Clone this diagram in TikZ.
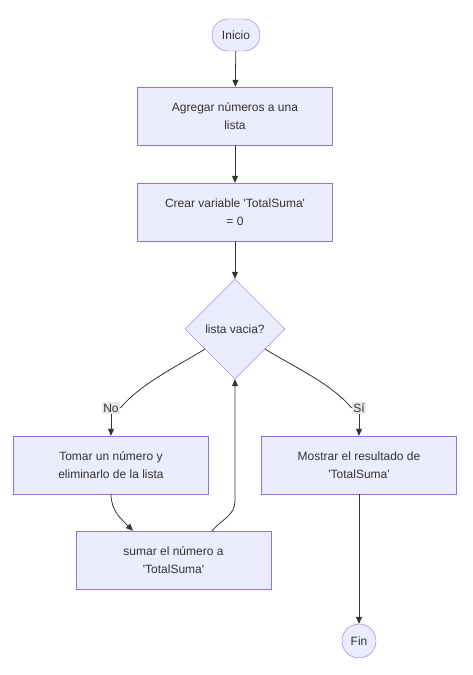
\documentclass[tikz,border=0pt]{standalone}
\usepackage{fontspec}
\setmainfont{Liberation Sans}
\usepackage{tikz}
\usetikzlibrary{arrows.meta,calc,positioning,shapes.geometric}
\definecolor{mmfill}{HTML}{ECECFF}
\definecolor{mmline}{HTML}{9370DB}
\definecolor{mmedge}{HTML}{333333}
\definecolor{mmlabel}{HTML}{E8E8E8}
\newcommand{\qq}{\textquotesingle}
\tikzset{%
	process/.style  = {draw=mmline, fill=mmfill, rectangle, minimum width=195pt, minimum height=58pt, align=center},
	startstop/.style= {draw=mmline, fill=mmfill, rectangle, rounded corners=16pt, minimum width=48pt, minimum height=32pt},
	stopcirc/.style = {draw=mmline, fill=mmfill, circle, minimum size=34pt, inner sep=0pt},
	decision/.style = {draw=mmline, fill=mmfill, diamond, aspect=1, minimum width=100pt, minimum height=100pt, inner sep=0pt},
	edgelabel/.style= {fill=mmlabel, inner sep=1.5pt},
	arrow/.style    = {draw=mmedge, line width=0.8pt, ->},
	line/.style     = {draw=mmedge, line width=0.8pt},
}

\begin{document}
\begin{tikzpicture}[x=1pt,y=1pt,>={Triangle[length=7pt,width=6pt]},text=mmedge,font=\fontsize{12}{18}\selectfont]
	\useasboundingbox (0,0) rectangle (473,675);
	\node [startstop] (start) at (236,640) {Inicio};
	\node [process] (add) [below of=start,node distance=81pt,xshift=-1pt] {Agregar números a una\\lista};
	\node [process] (var) [below of=add,node distance=96pt] {Crear variable \qq TotalSuma\qq\\= 0};
	\node [decision] (empty) [below of=var,node distance=117pt] {lista vacia?};
	\node [process] (take) [below of=empty,node distance=136pt,xshift=-124pt] {Tomar un número y\\eliminarlo de la lista};
	\node [process] (sum) [below of=take,node distance=95pt,xshift=62.5pt] {sumar el número a\\\qq TotalSuma\qq};
	\node [process] (show) [below of=empty,node distance=136pt,xshift=124pt] {Mostrar el resultado de\\\qq TotalSuma\qq};
	\node [stopcirc] (fin) [below of=show,node distance=176pt] {Fin};
	\node [edgelabel] (no) at (111,267) {No};
	\node [edgelabel] (yes) at (359,267) {Sí};
	\coordinate (noout) at ($(empty.west)!0.4!(empty.south)$);
	\coordinate (yesout) at ($(empty.east)!0.4!(empty.south)$);
	\coordinate (sumin) at ([xshift=-40.5pt]sum.north);
	\coordinate (sumout) at ([xshift=38.5pt]sum.north);
	
	\draw[arrow] (start) -- (add);
	\draw[arrow] (add) -- (var);
	\draw[arrow] (var) -- (empty);
	\draw[line] (noout) to[out=-148,in=50,looseness=0.8] (no.east);
	\draw[arrow] (no) -- (take);
	\draw[line] (yesout) to[out=-32,in=130,looseness=0.8] (yes.west);
	\draw[arrow] (yes) -- (show);
	\draw[arrow] (take.south) to[out=-90,in=135] (sumin);
	\draw[arrow] (sumout) to[out=50,in=-90] ($(empty.south|-sumout)+(0,30)$) -- (empty.south);
	\draw[arrow] (show) -- (fin);
\end{tikzpicture}
\end{document}
